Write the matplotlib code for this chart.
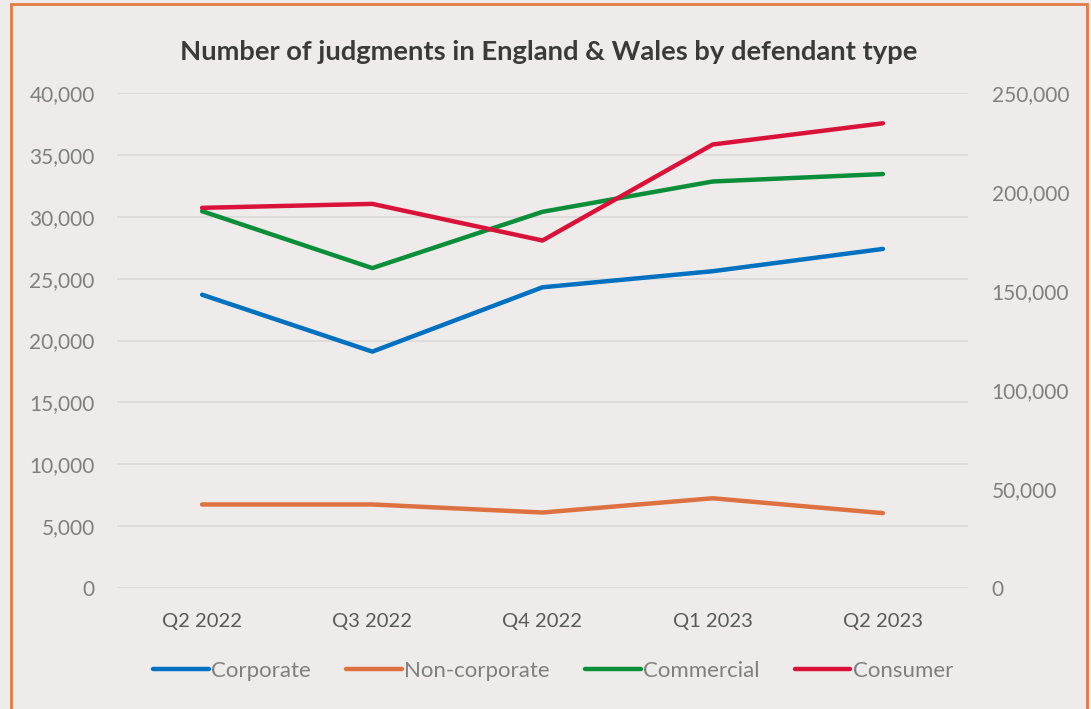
import numpy as np
import matplotlib.pyplot as plt
from matplotlib.patches import Rectangle
from matplotlib.ticker import FuncFormatter

plt.rcParams['font.family'] = ['Lato', 'DejaVu Sans']

# data
quarters = ["Q2 2022", "Q3 2022", "Q4 2022", "Q1 2023", "Q2 2023"]
corporate = [23700, 19100, 24300, 25600, 27400]
non_corporate = [6750, 6750, 6100, 7250, 6050]
commercial = [30450, 25850, 30400, 32850, 33450]
consumer = [192000, 194000, 175500, 224000, 234700]   # right axis

bg = "#EFEBEA"
grey = "#7F7F7F"

fig = plt.figure(figsize=(10.91, 7.09), dpi=100, facecolor=bg)
ax = fig.add_axes([117/1091, 1 - 588/709, (968 - 117)/1091, (588 - 93)/709])
ax.set_facecolor(bg)
ax2 = ax.twinx()

x = np.arange(len(quarters))
lw = 3.2
l1, = ax.plot(x, corporate, color="#0070C0", lw=lw, solid_capstyle="round", label="Corporate")
l2, = ax.plot(x, non_corporate, color="#DD7140", lw=lw, solid_capstyle="round", label="Non-corporate")
l3, = ax.plot(x, commercial, color="#0B8E3A", lw=lw, solid_capstyle="round", label="Commercial")
l4, = ax2.plot(x, consumer, color="#D81238", lw=lw, solid_capstyle="round", label="Consumer")

ax.set_xlim(-0.5, len(quarters) - 0.5)
ax.set_ylim(0, 40000)
ax.set_yticks(np.arange(0, 40001, 5000))
ax2.set_ylim(0, 250000)
ax2.set_yticks(np.arange(0, 250001, 50000))

fmt = FuncFormatter(lambda v, p: f"{int(v):,}")
ax.yaxis.set_major_formatter(fmt)
ax2.yaxis.set_major_formatter(fmt)

ax.set_xticks(x)
ax.set_xticklabels(quarters)
ax.grid(axis="y", color="#DDDAD8", lw=1.3)
ax.set_axisbelow(True)

for a in (ax, ax2):
    for s in a.spines.values():
        s.set_visible(False)
ax.tick_params(axis="y", length=0, pad=16, labelsize=15, labelcolor=grey)
ax.tick_params(axis="x", length=0, pad=18, labelsize=14.5, labelcolor="#595959")
ax2.tick_params(axis="y", length=0, pad=17, labelsize=15, labelcolor=grey)

fig.text(549/1091, 1 - 52/709, "Number of judgments in England & Wales by defendant type",
         ha="center", va="center", fontsize=19.7, fontweight="bold", color="#3A3A3A")

leg = fig.legend(handles=[l1, l2, l3, l4], loc="center", ncol=4,
                 bbox_to_anchor=(553/1091, 1 - 671/709), frameon=False,
                 fontsize=16, handlelength=2.5, handletextpad=0.1, columnspacing=1.6)
for t in leg.get_texts():
    t.set_color(grey)

# orange frame round the chart
fig.patches.append(Rectangle((11/1091, -0.02), (1087 - 11)/1091, 1.02 - 4/709,
                             transform=fig.transFigure, fill=False,
                             edgecolor="#E07B45", lw=2))

fig.savefig("out.png", dpi=100, facecolor=bg)
